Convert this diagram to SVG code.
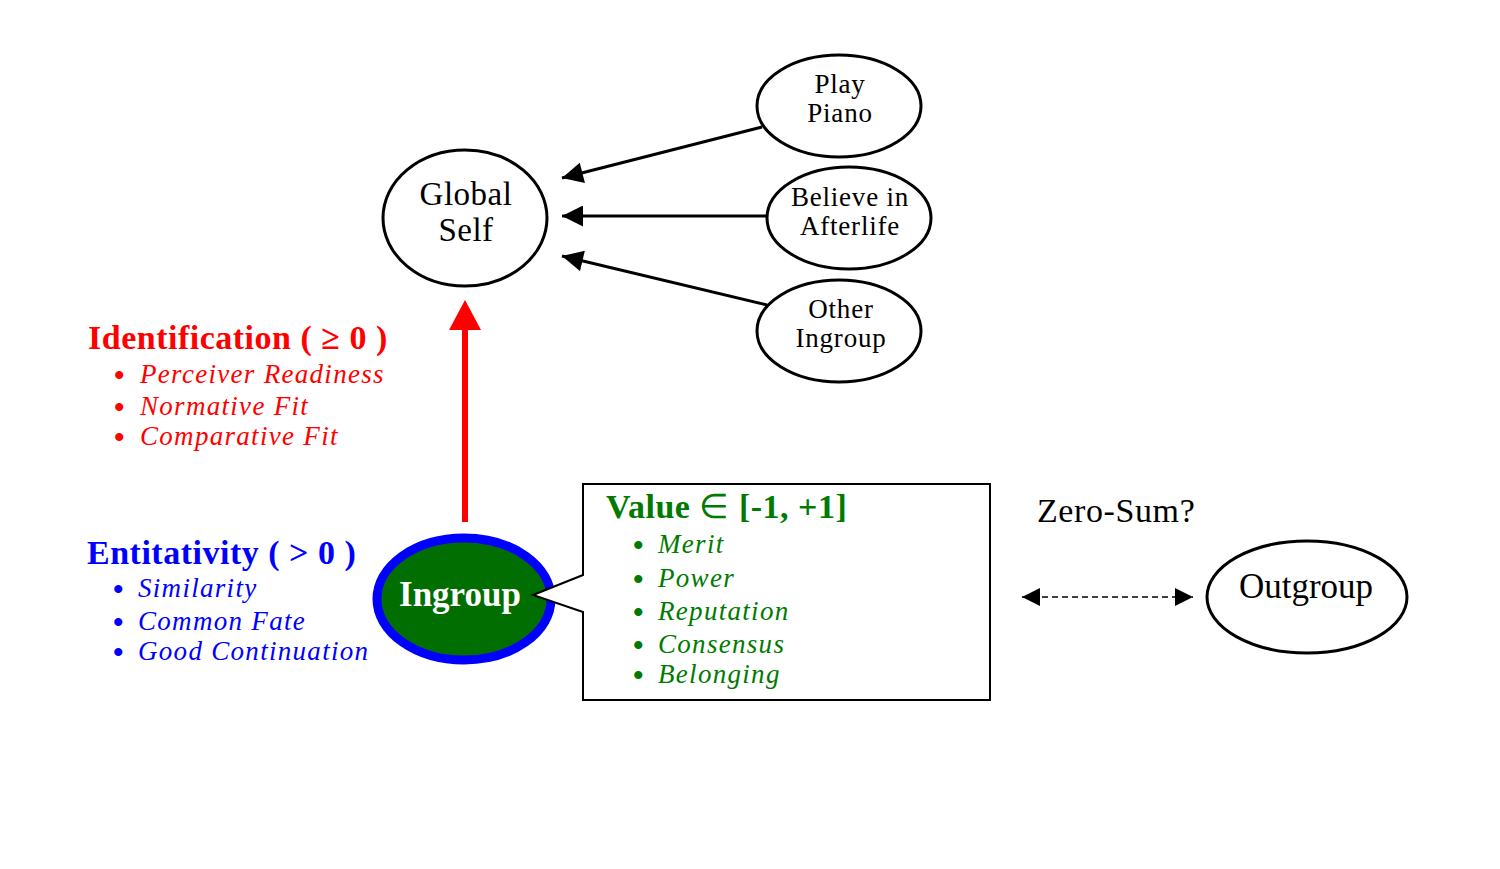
<svg xmlns="http://www.w3.org/2000/svg" width="1500" height="869" viewBox="0 0 1500 869">
<style>
  .node { fill: #fff; stroke: #000; stroke-width: 3; }
  .lbl { font-family: "Liberation Serif", "Times New Roman", serif; fill: #000; text-anchor: middle; }
  .small { font-size: 27px; letter-spacing: 0.8px; }
  .edge { stroke: #000; stroke-width: 3; fill: none; }
  .red { fill: #f00; font-family: "Liberation Serif", serif; }
  .blue { fill: #00f; font-family: "Liberation Serif", serif; }
  .green { fill: #007a00; font-family: "Liberation Serif", serif; }
  .head { font-size: 34px; font-weight: bold; letter-spacing: 0.5px; }
  .item { font-size: 27px; font-style: italic; letter-spacing: 1.3px; }
  .bul { font-size: 30px; font-weight: bold; }
</style>
<defs>
  <marker id="ah" viewBox="0 0 10 10" refX="10" refY="5" markerWidth="8" markerHeight="7" markerUnits="strokeWidth" orient="auto">
    <path d="M0,0 L10,5 L0,10 Z" fill="#000"/>
  </marker>
  <marker id="ahs" viewBox="0 0 10 10" refX="10" refY="5" markerWidth="22" markerHeight="18" markerUnits="userSpaceOnUse" orient="auto-start-reverse">
    <path d="M0,0 L10,5 L0,10 Z" fill="#000"/>
  </marker>
</defs>
<rect width="1500" height="869" fill="#fff"/>

<g id="connectors">
  <line class="edge" x1="762" y1="127" x2="562" y2="178" marker-end="url(#ah)"/>
  <line class="edge" x1="767" y1="216" x2="562" y2="216" marker-end="url(#ah)"/>
  <line class="edge" x1="767" y1="305" x2="562" y2="256" marker-end="url(#ah)"/>
  <line x1="465" y1="522" x2="465" y2="330" stroke="#f00" stroke-width="6"/>
  <path d="M465,300 L481,330 L449,330 Z" fill="#f00"/>
  <line x1="1022" y1="597" x2="1193" y2="597" stroke="#000" stroke-width="1.5" stroke-dasharray="6,4" marker-start="url(#ahs)" marker-end="url(#ahs)"/>
</g>

<g id="global-self">
  <ellipse class="node" cx="465" cy="218" rx="82" ry="68"/>
  <text class="lbl" x="466" y="205" font-size="33" letter-spacing="0.5">Global</text>
  <text class="lbl" x="466" y="241" font-size="33" letter-spacing="0.5">Self</text>
</g>
<g id="play-piano">
  <ellipse class="node" cx="839" cy="106" rx="82" ry="51"/>
  <text class="lbl small" x="840" y="93">Play</text>
  <text class="lbl small" x="840" y="122">Piano</text>
</g>
<g id="believe-afterlife">
  <ellipse class="node" cx="849" cy="218" rx="82" ry="51"/>
  <text class="lbl small" x="850" y="206">Believe in</text>
  <text class="lbl small" x="850" y="235">Afterlife</text>
</g>
<g id="other-ingroup">
  <ellipse class="node" cx="839" cy="331" rx="82" ry="51"/>
  <text class="lbl small" x="841" y="318">Other</text>
  <text class="lbl small" x="841" y="347">Ingroup</text>
</g>

<g id="identification">
  <text class="red head" x="88" y="349">Identification ( ≥ 0 )</text>
  <text class="red bul" x="114" y="385">•</text>
  <text class="red item" x="140" y="383">Perceiver Readiness</text>
  <text class="red bul" x="114" y="417">•</text>
  <text class="red item" x="140" y="415">Normative Fit</text>
  <text class="red bul" x="114" y="447">•</text>
  <text class="red item" x="140" y="445">Comparative Fit</text>
</g>

<g id="entitativity">
  <text class="blue head" x="87" y="564">Entitativity ( &gt; 0 )</text>
  <text class="blue bul" x="113" y="599">•</text>
  <text class="blue item" x="138" y="597">Similarity</text>
  <text class="blue bul" x="113" y="632">•</text>
  <text class="blue item" x="138" y="630">Common Fate</text>
  <text class="blue bul" x="113" y="662">•</text>
  <text class="blue item" x="138" y="660">Good Continuation</text>
</g>

<g id="ingroup">
  <ellipse cx="464" cy="599" rx="87" ry="61" fill="#006e00" stroke="#0000ff" stroke-width="9"/>
  <text x="460" y="606" font-family="Liberation Serif, serif" font-size="35" font-weight="bold" fill="#fff" text-anchor="middle">Ingroup</text>
</g>

<g id="value-callout">
  <path d="M583,484 L990,484 L990,700 L583,700 L583,612 L533,595 L583,575 Z" fill="#fff" stroke="#000" stroke-width="2"/>
  <text class="green head" x="606" y="518">Value <tspan font-weight="normal">∈</tspan> [-1, +1]</text>
  <text class="green bul" x="633" y="555">•</text>
  <text class="green item" x="658" y="553">Merit</text>
  <text class="green bul" x="633" y="589">•</text>
  <text class="green item" x="658" y="587">Power</text>
  <text class="green bul" x="633" y="622">•</text>
  <text class="green item" x="658" y="620">Reputation</text>
  <text class="green bul" x="633" y="655">•</text>
  <text class="green item" x="658" y="653">Consensus</text>
  <text class="green bul" x="633" y="685">•</text>
  <text class="green item" x="658" y="683">Belonging</text>
</g>

<g id="zero-sum">
  <text x="1037" y="522" font-family="Liberation Serif, serif" font-size="34" letter-spacing="0.6" fill="#000">Zero-Sum?</text>
</g>

<g id="outgroup">
  <ellipse class="node" cx="1307" cy="597" rx="100" ry="56"/>
  <text class="lbl" x="1306" y="598" font-size="35">Outgroup</text>
</g>
</svg>
